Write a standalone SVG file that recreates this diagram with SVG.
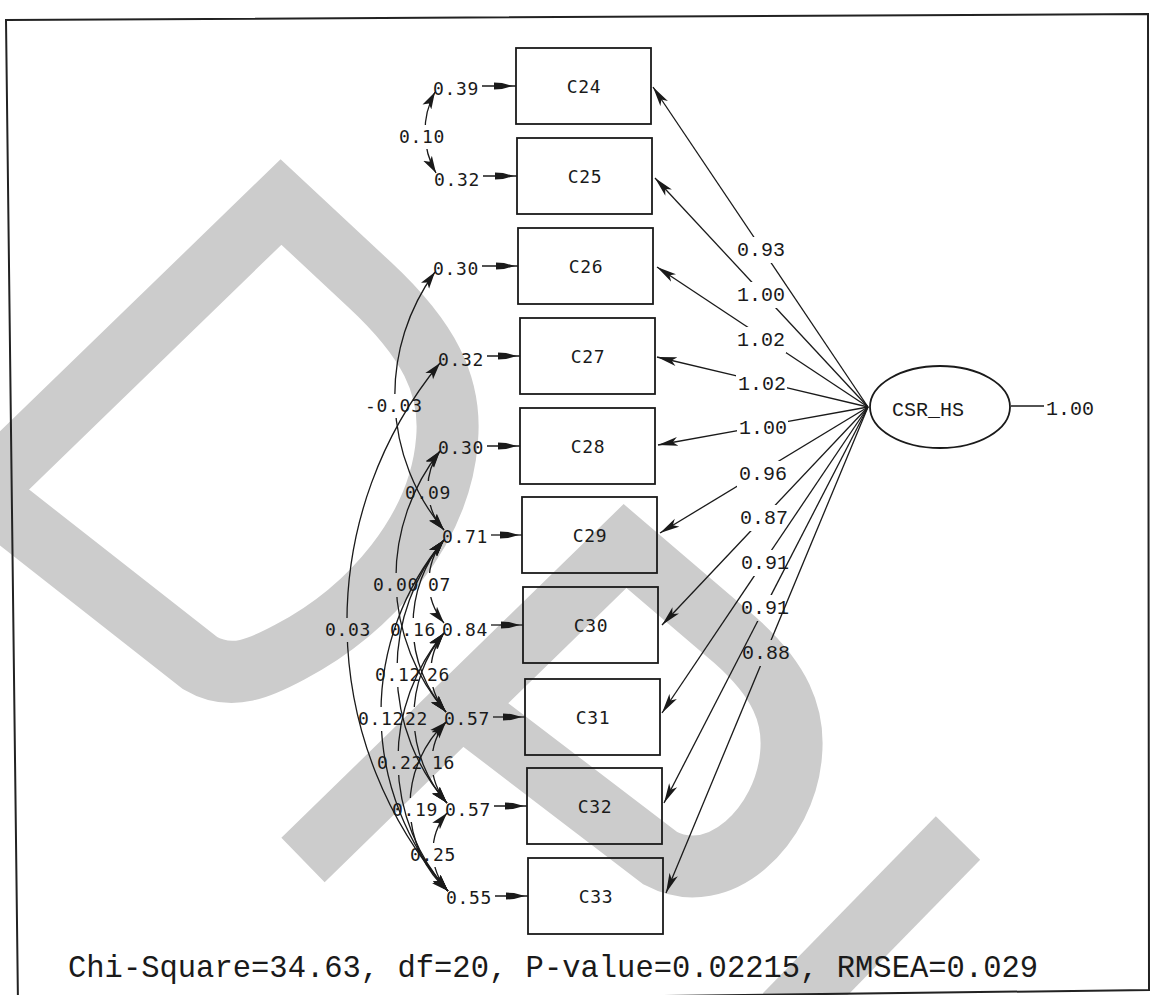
<svg xmlns="http://www.w3.org/2000/svg" width="1151" height="995" viewBox="0 0 1151 995">
<defs>
<style>
.wm{fill:none;stroke:#cccccc;stroke-width:62;stroke-linejoin:miter;stroke-miterlimit:10}
.frame{fill:none;stroke:#222;stroke-width:2}
.box{fill:#fff;fill-opacity:0;stroke:#1a1a1a;stroke-width:1.8}
.ln{fill:none;stroke:#1a1a1a;stroke-width:1.3}
.lbl{font-family:"DejaVu Sans Mono",monospace;font-size:18px;letter-spacing:0.7px;fill:#1a1a1a}
.nm{font-family:"DejaVu Sans Mono",monospace;font-size:18px;letter-spacing:0.7px;fill:#1a1a1a;text-anchor:middle}
.rl{font-family:"Liberation Mono","Courier New",monospace;font-size:20px;fill:#1a1a1a}
.ft{font-family:"Liberation Mono","Courier New",monospace;font-size:30.5px;fill:#1a1a1a}
</style>
<marker id="ah" viewBox="0 0 17 11" refX="17" refY="5.5" markerWidth="17" markerHeight="11" markerUnits="userSpaceOnUse" orient="auto-start-reverse"><path d="M0,0.5 L17,5.5 L0,10.5 L4,5.5 Z" fill="#1a1a1a"/></marker>
<marker id="la" viewBox="0 0 20 10" refX="20" refY="5" markerWidth="20" markerHeight="10" markerUnits="userSpaceOnUse" orient="auto"><path d="M0,0.5 L20,5 L0,9.5 L5,5 Z" fill="#1a1a1a"/></marker>
<marker id="ea" viewBox="0 0 22 9" refX="22" refY="4.5" markerWidth="22" markerHeight="9" markerUnits="userSpaceOnUse" orient="auto"><path d="M0,1 L8,1.5 L19,4.5 L8,7.5 L0,8 Z" fill="#1a1a1a"/></marker>
<mask id="r1" maskUnits="userSpaceOnUse" x="0" y="0" width="1151" height="995"><rect width="1151" height="995" fill="#fff"/><rect x="735" y="237" width="51" height="26" fill="#000"/></mask>
<mask id="r2" maskUnits="userSpaceOnUse" x="0" y="0" width="1151" height="995"><rect width="1151" height="995" fill="#fff"/><rect x="735" y="282" width="51" height="26" fill="#000"/></mask>
<mask id="r3" maskUnits="userSpaceOnUse" x="0" y="0" width="1151" height="995"><rect width="1151" height="995" fill="#fff"/><rect x="735" y="327" width="51" height="26" fill="#000"/></mask>
<mask id="r4" maskUnits="userSpaceOnUse" x="0" y="0" width="1151" height="995"><rect width="1151" height="995" fill="#fff"/><rect x="736" y="371" width="51" height="26" fill="#000"/></mask>
<mask id="r5" maskUnits="userSpaceOnUse" x="0" y="0" width="1151" height="995"><rect width="1151" height="995" fill="#fff"/><rect x="737" y="415" width="51" height="26" fill="#000"/></mask>
<mask id="r6" maskUnits="userSpaceOnUse" x="0" y="0" width="1151" height="995"><rect width="1151" height="995" fill="#fff"/><rect x="737" y="461" width="51" height="26" fill="#000"/></mask>
<mask id="r7" maskUnits="userSpaceOnUse" x="0" y="0" width="1151" height="995"><rect width="1151" height="995" fill="#fff"/><rect x="738" y="505" width="51" height="26" fill="#000"/></mask>
<mask id="r8" maskUnits="userSpaceOnUse" x="0" y="0" width="1151" height="995"><rect width="1151" height="995" fill="#fff"/><rect x="739" y="550" width="51" height="26" fill="#000"/></mask>
<mask id="r9" maskUnits="userSpaceOnUse" x="0" y="0" width="1151" height="995"><rect width="1151" height="995" fill="#fff"/><rect x="739" y="595" width="51" height="26" fill="#000"/></mask>
<mask id="r10" maskUnits="userSpaceOnUse" x="0" y="0" width="1151" height="995"><rect width="1151" height="995" fill="#fff"/><rect x="740" y="640" width="51" height="26" fill="#000"/></mask>
<mask id="k1" maskUnits="userSpaceOnUse" x="0" y="0" width="1151" height="995"><rect width="1151" height="995" fill="#fff"/><rect x="396" y="125" width="52" height="24" fill="#000"/></mask>
<mask id="k2" maskUnits="userSpaceOnUse" x="0" y="0" width="1151" height="995"><rect width="1151" height="995" fill="#fff"/><rect x="362" y="394" width="64" height="24" fill="#000"/></mask>
<mask id="k3" maskUnits="userSpaceOnUse" x="0" y="0" width="1151" height="995"><rect width="1151" height="995" fill="#fff"/><rect x="402" y="481" width="51" height="24" fill="#000"/></mask>
<mask id="k4" maskUnits="userSpaceOnUse" x="0" y="0" width="1151" height="995"><rect width="1151" height="995" fill="#fff"/><rect x="322" y="618" width="51" height="24" fill="#000"/></mask>
<mask id="k5" maskUnits="userSpaceOnUse" x="0" y="0" width="1151" height="995"><rect width="1151" height="995" fill="#fff"/><rect x="370" y="573" width="51" height="24" fill="#000"/></mask>
<mask id="k6" maskUnits="userSpaceOnUse" x="0" y="0" width="1151" height="995"><rect width="1151" height="995" fill="#fff"/><rect x="402" y="573" width="51" height="24" fill="#000"/></mask>
<mask id="k7" maskUnits="userSpaceOnUse" x="0" y="0" width="1151" height="995"><rect width="1151" height="995" fill="#fff"/><rect x="387" y="618" width="50" height="24" fill="#000"/></mask>
<mask id="k8" maskUnits="userSpaceOnUse" x="0" y="0" width="1151" height="995"><rect width="1151" height="995" fill="#fff"/><rect x="372" y="663" width="50" height="24" fill="#000"/></mask>
<mask id="k9" maskUnits="userSpaceOnUse" x="0" y="0" width="1151" height="995"><rect width="1151" height="995" fill="#fff"/><rect x="401" y="663" width="54" height="24" fill="#000"/></mask>
<mask id="k10" maskUnits="userSpaceOnUse" x="0" y="0" width="1151" height="995"><rect width="1151" height="995" fill="#fff"/><rect x="355" y="707" width="51" height="24" fill="#000"/></mask>
<mask id="k11" maskUnits="userSpaceOnUse" x="0" y="0" width="1151" height="995"><rect width="1151" height="995" fill="#fff"/><rect x="383" y="707" width="50" height="24" fill="#000"/></mask>
<mask id="k12" maskUnits="userSpaceOnUse" x="0" y="0" width="1151" height="995"><rect width="1151" height="995" fill="#fff"/><rect x="374" y="751" width="50" height="24" fill="#000"/></mask>
<mask id="k13" maskUnits="userSpaceOnUse" x="0" y="0" width="1151" height="995"><rect width="1151" height="995" fill="#fff"/><rect x="406" y="751" width="51" height="24" fill="#000"/></mask>
<mask id="k14" maskUnits="userSpaceOnUse" x="0" y="0" width="1151" height="995"><rect width="1151" height="995" fill="#fff"/><rect x="389" y="798" width="49" height="24" fill="#000"/></mask>
<mask id="k15" maskUnits="userSpaceOnUse" x="0" y="0" width="1151" height="995"><rect width="1151" height="995" fill="#fff"/><rect x="407" y="843" width="51" height="24" fill="#000"/></mask>
</defs>
<rect width="1151" height="995" fill="#fff"/>
<g id="watermark">
<path class="wm" d="M -18,492 L 281,202 L 370,285 C 428,339 452,385 447,440 C 440,530 370,610 290,652 C 262,667 232,682 200,663 Z"/>
<path class="wm" d="M 303,860 L 625,546 L 735,640 C 780,680 795,715 791,755 C 785,825 720,890 660,858 L 461,706"/>
<path class="wm" d="M 785,1015 L 958,838"/>
</g>
<path class="frame" d="M6,20 L1148,14 L1149,990 L18,1004 Z"/>
<g id="connectors">
<g id="loadings">
<path class="ln" mask="url(#r1)" marker-end="url(#la)" d="M868,407 L653,87"/>
<path class="ln" mask="url(#r2)" marker-end="url(#la)" d="M868,407 L655,178"/>
<path class="ln" mask="url(#r3)" marker-end="url(#la)" d="M868,407 L657,267"/>
<path class="ln" mask="url(#r4)" marker-end="url(#la)" d="M868,407 L657,357"/>
<path class="ln" mask="url(#r5)" marker-end="url(#la)" d="M868,407 L658,445"/>
<path class="ln" mask="url(#r6)" marker-end="url(#la)" d="M868,407 L660,533"/>
<path class="ln" mask="url(#r7)" marker-end="url(#la)" d="M868,407 L662,625"/>
<path class="ln" mask="url(#r8)" marker-end="url(#la)" d="M868,407 L662,713"/>
<path class="ln" mask="url(#r9)" marker-end="url(#la)" d="M868,407 L664,803"/>
<path class="ln" mask="url(#r10)" marker-end="url(#la)" d="M868,407 L666,893"/>
<path class="ln" d="M1011,406 L1044,406"/>
</g>
<g id="errors">
<path class="ln" marker-end="url(#ea)" d="M482,86 L516,86"/>
<path class="ln" marker-end="url(#ea)" d="M483,176 L517,176"/>
<path class="ln" marker-end="url(#ea)" d="M482,266 L518,266"/>
<path class="ln" marker-end="url(#ea)" d="M487,356 L520,356"/>
<path class="ln" marker-end="url(#ea)" d="M487,446 L520,446"/>
<path class="ln" marker-end="url(#ea)" d="M491,535 L522,535"/>
<path class="ln" marker-end="url(#ea)" d="M491,625 L523,625"/>
<path class="ln" marker-end="url(#ea)" d="M493,717 L525,717"/>
<path class="ln" marker-end="url(#ea)" d="M494,806 L527,806"/>
<path class="ln" marker-end="url(#ea)" d="M495,896 L528,896"/>
</g>
<g id="covariances">
<path class="ln" mask="url(#k1)" marker-start="url(#ah)" marker-end="url(#ah)" d="M435,92 A83.3,83.3 0 0 0 436,173"/>
<path class="ln" mask="url(#k2)" marker-start="url(#ah)" marker-end="url(#ah)" d="M435,272 A209.2,209.2 0 0 0 444,530"/>
<path class="ln" mask="url(#k3)" marker-start="url(#ah)" marker-end="url(#ah)" d="M440,451 A62.7,62.7 0 0 0 444,530"/>
<path class="ln" mask="url(#k4)" marker-start="url(#ah)" marker-end="url(#ah)" d="M440,363 A407.8,407.8 0 0 0 448,891"/>
<path class="ln" mask="url(#k5)" marker-start="url(#ah)" marker-end="url(#ah)" d="M440,451 A204.7,204.7 0 0 0 446,712"/>
<path class="ln" mask="url(#k6)" marker-start="url(#ah)" marker-end="url(#ah)" d="M444,540 A64.9,64.9 0 0 0 444,623"/>
<path class="ln" mask="url(#k7)" marker-start="url(#ah)" marker-end="url(#ah)" d="M444,540 A131.6,131.6 0 0 0 446,712"/>
<path class="ln" mask="url(#k8)" marker-start="url(#ah)" marker-end="url(#ah)" d="M444,540 A202.5,202.5 0 0 0 447,803"/>
<path class="ln" mask="url(#k9)" marker-start="url(#ah)" marker-end="url(#ah)" d="M444,633 A62.7,62.7 0 0 0 446,712"/>
<path class="ln" mask="url(#k10)" marker-start="url(#ah)" marker-end="url(#ah)" d="M444,540 A269.4,269.4 0 0 0 448,891"/>
<path class="ln" mask="url(#k11)" marker-start="url(#ah)" marker-end="url(#ah)" d="M444,633 A130.4,130.4 0 0 0 447,803"/>
<path class="ln" mask="url(#k12)" marker-start="url(#ah)" marker-end="url(#ah)" d="M444,633 A197.3,197.3 0 0 0 448,891"/>
<path class="ln" mask="url(#k13)" marker-start="url(#ah)" marker-end="url(#ah)" d="M446,722 A63.8,63.8 0 0 0 447,803"/>
<path class="ln" mask="url(#k14)" marker-start="url(#ah)" marker-end="url(#ah)" d="M446,722 A115,115 0 0 0 448,891"/>
<path class="ln" mask="url(#k15)" marker-start="url(#ah)" marker-end="url(#ah)" d="M447,813 A59.7,59.7 0 0 0 448,891"/>
</g>
<g id="connector-labels">
<text class="rl" x="737" y="256">0.93</text>
<text class="rl" x="737" y="301">1.00</text>
<text class="rl" x="737" y="346">1.02</text>
<text class="rl" x="738" y="390">1.02</text>
<text class="rl" x="739" y="434">1.00</text>
<text class="rl" x="739" y="480">0.96</text>
<text class="rl" x="740" y="524">0.87</text>
<text class="rl" x="741" y="569">0.91</text>
<text class="rl" x="741" y="614">0.91</text>
<text class="rl" x="742" y="659">0.88</text>
<text class="rl" x="1046" y="415">1.00</text>
<text class="lbl" x="433" y="95">0.39</text>
<text class="lbl" x="434" y="186">0.32</text>
<text class="lbl" x="433" y="275">0.30</text>
<text class="lbl" x="438" y="366">0.32</text>
<text class="lbl" x="438" y="454">0.30</text>
<text class="lbl" x="442" y="543">0.71</text>
<text class="lbl" x="442" y="636">0.84</text>
<text class="lbl" x="444" y="725">0.57</text>
<text class="lbl" x="445" y="816">0.57</text>
<text class="lbl" x="446" y="904">0.55</text>
<text class="lbl" x="399" y="143">0.10</text>
<text class="lbl" x="365" y="412">-0.03</text>
<text class="lbl" x="405" y="499">0.09</text>
<text class="lbl" x="325" y="636">0.03</text>
<text class="lbl" x="373" y="591">0.00</text>
<text class="lbl" x="428" y="591">07</text>
<text class="lbl" x="390" y="636">0.16</text>
<text class="lbl" x="375" y="681">0.12</text>
<text class="lbl" x="427" y="681">26</text>
<text class="lbl" x="358" y="725">0.12</text>
<text class="lbl" x="405" y="725">22</text>
<text class="lbl" x="377" y="769">0.22</text>
<text class="lbl" x="432" y="769">16</text>
<text class="lbl" x="392" y="816">0.19</text>
<text class="lbl" x="410" y="861">0.25</text>
</g>
</g>
<g id="C24"><rect class="box" x="516" y="48" width="135" height="76"/><text class="nm" x="584" y="92.5">C24</text></g>
<g id="C25"><rect class="box" x="517" y="138" width="135" height="76"/><text class="nm" x="585" y="182.5">C25</text></g>
<g id="C26"><rect class="box" x="518" y="228" width="135" height="76"/><text class="nm" x="586" y="272.5">C26</text></g>
<g id="C27"><rect class="box" x="520" y="318" width="135" height="76"/><text class="nm" x="588" y="362.5">C27</text></g>
<g id="C28"><rect class="box" x="520" y="408" width="135" height="76"/><text class="nm" x="588" y="452.5">C28</text></g>
<g id="C29"><rect class="box" x="522" y="497" width="135" height="76"/><text class="nm" x="590" y="541.5">C29</text></g>
<g id="C30"><rect class="box" x="523" y="587" width="135" height="76"/><text class="nm" x="591" y="631.5">C30</text></g>
<g id="C31"><rect class="box" x="525" y="679" width="135" height="76"/><text class="nm" x="593" y="723.5">C31</text></g>
<g id="C32"><rect class="box" x="527" y="768" width="135" height="76"/><text class="nm" x="595" y="812.5">C32</text></g>
<g id="C33"><rect class="box" x="528" y="858" width="135" height="76"/><text class="nm" x="596" y="902.5">C33</text></g>
<g id="CSR_HS"><ellipse class="box" cx="940" cy="407" rx="70" ry="41"/><text class="rl" x="892" y="416">CSR_HS</text></g>
<g id="fit"><text class="ft" x="68" y="977">Chi-Square=34.63, df=20, P-value=0.02215, RMSEA=0.029</text></g>
</svg>
